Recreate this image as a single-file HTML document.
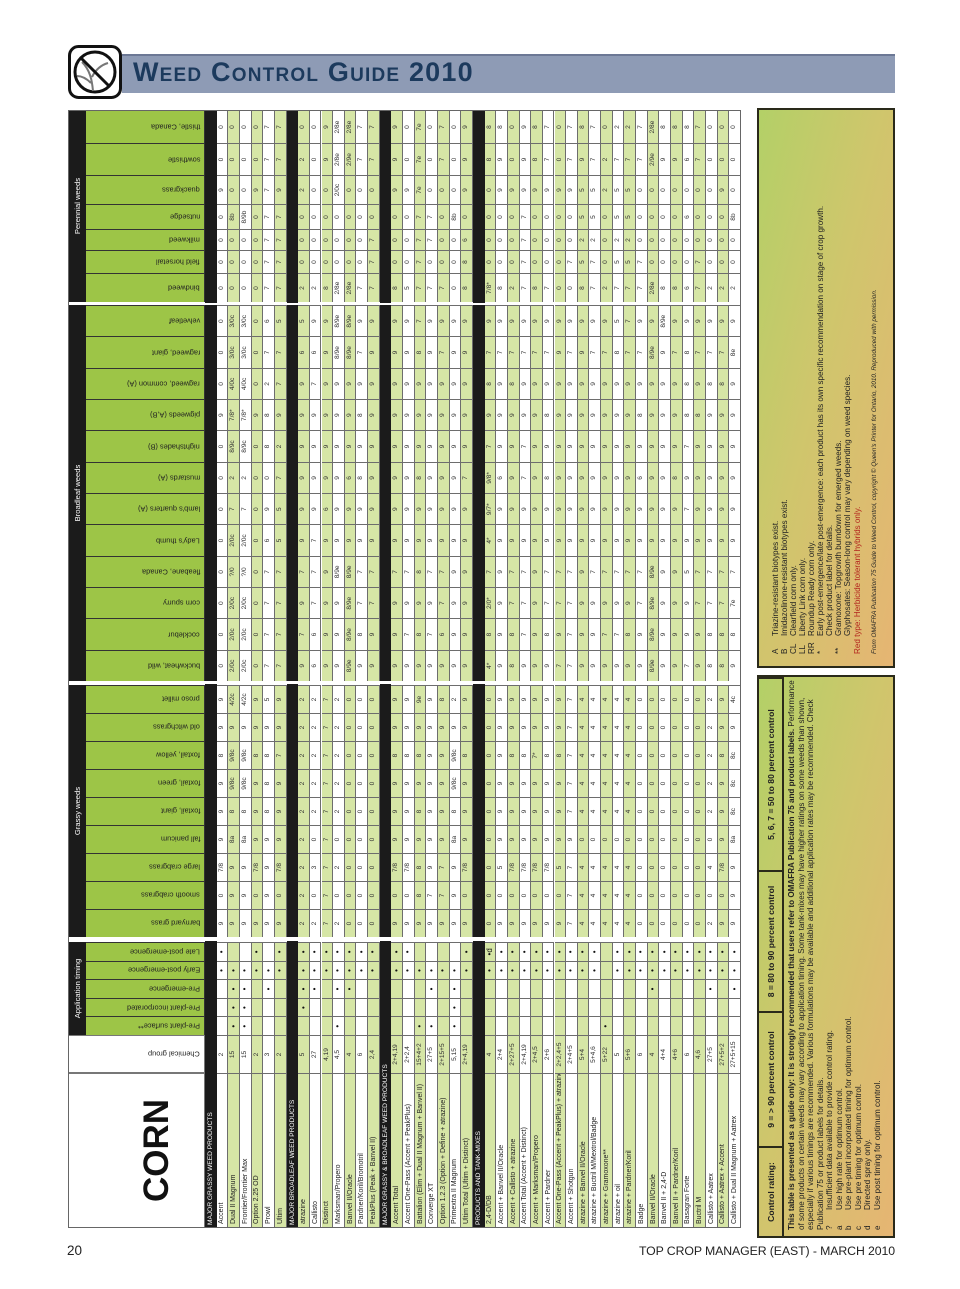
<!DOCTYPE html>
<html><head><meta charset="utf-8">
<style>
html,body{margin:0;padding:0;background:#fff;}
body{width:960px;height:1289px;position:relative;overflow:hidden;font-family:"Liberation Sans",sans-serif;}
#rot{position:absolute;left:68px;top:108px;width:1132px;height:828px;transform-origin:0 0;transform:translateY(1132px) rotate(-90deg);}
.c{position:absolute;box-sizing:border-box;border-right:1px solid #6d6d6d;border-bottom:1px solid #6d6d6d;font-size:6.6px;color:#333;display:flex;align-items:center;justify-content:center;white-space:nowrap;overflow:hidden;line-height:1;}
.n{justify-content:flex-start;padding-left:3px;font-size:7px;color:#222;}
.hdr{position:absolute;box-sizing:border-box;background:#9dc547;border-right:1px solid #333;border-bottom:1px solid #333;overflow:hidden;}
.hdr span{position:absolute;bottom:4px;left:50%;writing-mode:vertical-rl;transform:translateX(-50%) rotate(180deg);font-size:7.4px;color:#222;white-space:nowrap;}
.blk{position:absolute;background:#1b1b1b;color:#fff;font-size:7px;display:flex;align-items:center;}
.gap{position:absolute;background:#fff;}
.box{position:absolute;box-sizing:border-box;border:2px solid #2a2a1a;background:linear-gradient(to bottom left,#b3d067 0%,#cfc66c 45%,#e6b573 100%);}
</style></head>
<body>
<div>
<svg style="position:absolute;left:68px;top:45px" width="54" height="54" viewBox="0 0 54 54">
<rect x="1.5" y="1.5" width="51" height="51" rx="9" fill="#fff" stroke="#111" stroke-width="3"/>
<circle cx="27" cy="27" r="20" fill="none" stroke="#111" stroke-width="3"/>
<path d="M25 46 C24 35 22 25 14 17 M24 32 C28 24 33 20 40 18 M23 38 C18 33 14 31 9 31" stroke="#777" stroke-width="2" fill="none"/>
<line x1="13" y1="13" x2="41" y2="41" stroke="#111" stroke-width="3"/>
</svg>
<div style="position:absolute;left:122px;top:54px;width:773px;height:39px;background:#8e9bb5;border-top:2px solid #6c7895;box-sizing:border-box;"></div>
<div style="position:absolute;left:133px;top:57px;font-size:27px;font-weight:bold;color:#1c3a5d;font-variant:small-caps;letter-spacing:1.2px;">Weed Control Guide 2010</div>
</div>

<div id="rot"></div>

<div style="position:absolute;left:67px;top:1243px;font-size:13.5px;color:#222;">20</div>
<div style="position:absolute;right:65px;top:1244px;font-size:12.3px;color:#222;letter-spacing:-0.1px;">TOP CROP MANAGER (EAST) - MARCH 2010</div>

<script>
// ---- data ----
const sectionTitles = ["MAJOR GRASSY WEED PRODUCTS","MAJOR BROADLEAF WEED PRODUCTS","MAJOR GRASSY & BROADLEAF WEED PRODUCTS","PRODUCTS AND TANK-MIXES"];
const sectionSizes = [6,7,7,22];
const productNames = ["Accent","Dual II Magnum","Frontier/Frontier Max","Option 2.25 OD","Prowl","Ultim",
"atrazine","Callisto","Distinct","Marksman/Propero","Banvel II/Oracle","Pardner/Koril/Bromotril","PeakPlus (Peak + Banvel II)",
"Accent Total","Accent One-Pass (Accent + PeakPlus)","Battalion (Elim + Dual II Magnum + Banvel II)","Converge XT","Option 1.2.3 (Option + Define + atrazine)","Primextra II Magnum","Ultim Total (Ultim + Distinct)",
"2,4-D/DB","Accent + Banvel II/Oracle","Accent + Callisto + atrazine","Accent Total (Accent + Distinct)","Accent + Marksman/Propero","Accent + Pardner","Accent One-Pass (Accent + PeakPlus) + atrazine","Accent + Shotgun","atrazine + Banvel II/Oracle","atrazine + Buctril M/Mextrol/Badge","atrazine + Gramoxone**","atrazine + oil","atrazine + Pardner/Koril","Badge","Banvel II/Oracle","Banvel II + 2,4-D","Banvel II + Pardner/Koril","Basagran Forte","Buctril M","Callisto + Aatrex","Callisto + Aatrex + Accent","Callisto + Dual II Magnum + Aatrex"];
const chemGroups = ["2","15","15","2","3","2","5","27","4,19","4,5","4","6","2,4","2+4,19","2+2,4","15+4+2","27+5","2+15+5","5,15","2+4,19","4","2+4","2+27+5","2+4,19","2+4,5","2+6","2+2,4+5","2+4+5","5+4","5+4,6","5+22","5","5+6","6","4","4+4","4+6","6","4,6","27+5","27+5+2","27+5+15"];
const timingLabels = ["Pre-plant surface**","Pre-plant incorporated","Pre-emergence","Early post-emergence","Late post-emergence"];
const timing = ["00011","11110","11110","00011","00110","00011","01111","00111","00011","10111","00111","00011","00011","00011","00011","10010","10110","00010","11110","00011","0001d","00011","00011","00011","00011","00011","00011","00011","00011","00011","10000","00011","00011","00011","00111","00011","00011","00011","00011","00111","00011","00111"];
const grassyNames = ["barnyard grass","smooth crabgrass","large crabgrass","fall panicum","foxtail, giant","foxtail, green","foxtail, yellow","old witchgrass","proso millet"];
const broadleafNames = ["buckwheat, wild","cocklebur","corn spurry","fleabane, Canada","Lady's thumb","lamb's quarters (A)","mustards (A)","nightshades (B)","pigweeds (A,B)","ragweed, common (A)","ragweed, giant","velvetleaf"];
const perennialNames = ["bindweed","field horsetail","milkweed","nutsedge","quackgrass","sowthistle","thistle, Canada"];
const grassyRows = ["9 0 7/8 9 9 9 8 9 9","9 9 9 8a 8 9/8c 9/8c 9 4/2c","9 9 9 8a 8 9/8c 9/8c 9 4/2c","9 0 7/8 9 9 9 8 9 9","9 9 9 9 8 8 8 9 5","9 0 7/8 9 9 9 7 9 9",
"2 2 2 2 2 2 2 2 2","2 0 3 0 2 2 2 2 2","7 7 7 7 7 7 7 7 7","2 0 2 0 2 2 2 2 2","0 0 0 0 0 0 0 0 0","0 0 0 0 0 0 0 0 0","0 0 0 0 0 0 0 0 0",
"9 0 7/8 9 9 9 8 9 9","9 0 7/8 9 9 9 8 9 9","9 8 8 9 8 9 8 9 9e","9 7 9 9 9 9 9 9 9","9 7 7 9 9 9 9 9 8","9 9 9 8a 8 9/8c 9/8c 9 2","9 0 7/8 9 9 9 8 9 9",
"0 0 0 0 0 0 0 0 0","9 0 5 9 9 9 9 9 9","9 0 7/8 9 9 9 8 9 9","9 0 7/8 9 9 9 8 9 9","9 0 7/8 9 9 9 7* 9 9","9 0 7/8 9 9 9 8 9 9","9 0 5 9 9 9 8 9 9","7 7 7 9 7 7 7 7 7","4 4 4 0 4 4 4 4 4","4 4 4 0 4 4 4 4 4","4 4 4 0 4 4 4 4 4","4 4 4 0 4 4 4 4 4","4 4 4 0 4 4 4 4 4","0 0 0 0 0 0 0 0 0","0 0 0 0 0 0 0 0 0","0 0 0 0 0 0 0 0 0","0 0 0 0 0 0 0 0 0","0 0 0 0 0 0 0 0 0","0 0 0 0 0 0 0 0 0","2 0 4 0 2 2 2 2 2","9 0 7/8 9 9 9 8 9 9","9 9 9 8a 8c 8c 8c 9 4c"];
const broadleafRows = ["0 0 0 0 0 0 0 0 9 0 0 0","2/0c 2/0c 2/0c ?/0 2/0c 7 2 8/9c 7/8* 4/0c 3/0c 3/0c","2/0c 2/0c 2/0c ?/0 2/0c 7 2 8/9c 7/8* 4/0c 3/0c 3/0c","0 0 0 0 0 0 0 0 9 0 0 0","7 7 7 7 6 9 0 8 8 2 7 6","7 7 7 7 5 5 7 2 9 7 7 5",
"9 7 9 7 9 9 9 9 9 9 6 5","6 6 7 7 7 9 9 9 9 7 6 9","9 9 9 9 9 6 9 9 9 9 9 9","9 9 9 8/9e 9 9 9 9 9 9 8/9e 8/9e","8/9e 8/9e 8/9e 8/9e 9 9 6 9 9 9 8/9e 8/9e","9 8 7 7 9 9 8 9 8 9 7 9","9 9 7 7 9 9 9 9 9 9 9 9",
"9 9 9 7 9 9 9 9 9 9 9 9","9 7 9 7 9 9 9 9 9 9 9 9","9 8 9 8 9 9 8 9 9 9 8 7","9 7 9 7 9 9 9 9 9 9 9 9","9 6 7 7 9 9 9 9 9 9 7 9","9 9 9 9 9 9 9 9 9 9 9 9","9 9 9 9 9 9 7 9 9 9 9 9"];
const tankBroadleafCols = ["4* 9 8 9 9 9 7 7 9 9 9 9 9 9 8/9e 9 9 7 9 8 8 9","8 9 8 7 9 8 9 7 9 9 7 7 8 9 8/9e 9 9 9 9 8 8 8","2/0* 9 7 7 9 7 7 7 9 9 9 9 9 7 8/9e 9 9 9 7 7 7 7e","7 9 7 7 9 7 7 7 9 7 7 7 7 7 8/9e 9 9 5 7 7 7 7","4* 9 9 9 9 9 9 9 9 9 9 9 9 9 9 9 9 9 9 9 9 9","9/7* 9 9 9 9 9 9 9 9 9 9 9 9 9 9 9 9 7 9 9 9 9","9/8* 6 9 7 9 8 9 9 9 9 9 9 9 6 9 9 8 9 9 9 9 9","7 9 9 7 9 9 9 9 9 9 9 9 9 9 9 9 9 7 9 9 9 9","9 9 9 9 9 8 9 9 9 9 9 9 9 8 9 9 9 8 8 9 9 9","8 9 8 9 9 9 9 9 9 9 9 9 9 9 9 9 9 8 9 8 8 9","7 7 7 7 7 7 9 7 9 7 7 8 7 7 8/9e 9 7 8 7 7 7 8e","9 9 9 9 9 9 9 9 9 9 9 5 7 9 9 8/9e 9 9 9 9 9 9"];
const perennialRows = ["0 0 0 0 9 0 0","0 0 0 8b 0 0 0","0 0 0 8/9b 0 0 0","0 0 0 0 9 0 0","7 7 7 7 7 7 7","7 7 7 7 9 7 7",
"2 0 0 0 2 2 0","2 0 0 0 0 0 0","8 0 0 0 0 9 9","2/8e 0 0 0 2/0c 2/8e 2/8e","2/8e 0 0 0 0 2/9e 2/8e","7 0 0 0 0 7 7","7 7 7 0 0 7 7",
"8 0 0 0 9 9 9","5 0 0 0 9 0 0","7 7 7 7 7e 7e 7e","7 0 7 7 0 0 0","7 0 0 0 0 7 7","0 0 0 8b 0 0 0","8 8 6 0 9 9 9"];
const tankPerennialCols = ["7/8* 8 2 7 8 7 0 0 8 7 2 7 7 7 2/8e 8 8 6 7 2 2 2","0 0 0 7 0 0 0 7 5 7 0 5 5 7 0 0 0 0 7 0 0 0","0 0 0 7 0 0 0 0 2 2 0 2 2 0 0 0 0 0 0 0 0 0","0 0 0 7 0 0 0 0 5 5 0 5 5 0 0 0 0 6 0 0 0 8b","0 9 9 9 9 9 9 9 5 5 2 5 5 0 0 0 0 0 0 0 9 0","8 9 0 9 8 7 0 7 9 7 2 7 7 7 2/9e 9 9 6 7 0 0 0","8 8 0 9 8 7 0 7 8 7 0 2 2 7 2/8e 8 8 8 7 0 0 0"];

// ---- layout ----
const R = document.getElementById('rot');
function mk(cls, u, v, w, h, txt){
  const d=document.createElement('div');
  d.className=cls;
  d.style.left=u+'px';d.style.top=v+'px';d.style.width=w+'px';d.style.height=h+'px';
  if(txt!==undefined) d.textContent=txt;
  R.appendChild(d);return d;
}
const U0=12, NAMEW=155, CHEMW=38, APPW=18.6;
const appU=U0+NAMEW+CHEMW;
const grassU=appU+5*APPW+5, GRW=28;
const broadU=grassU+9*GRW+4, BRW=31.33;
const perU=broadU+12*BRW+3;
const perW=[29,23,21,25,29,32,33];
const HB=18, HH=137, RH=11.65;

// columns list
const cols=[];
for(let i=0;i<5;i++) cols.push({u:appU+i*APPW,w:APPW,name:timingLabels[i],grp:'app'});
for(let i=0;i<9;i++) cols.push({u:grassU+i*GRW,w:GRW,name:grassyNames[i],grp:'g'});
for(let i=0;i<12;i++) cols.push({u:broadU+i*BRW,w:BRW,name:broadleafNames[i],grp:'b'});
let pu=perU;
for(let i=0;i<7;i++){cols.push({u:pu,w:perW[i],name:perennialNames[i],grp:'p'});pu+=perW[i];}
const END=pu;

// top group bands
const bands=[["Application timing",appU,appU+5*APPW],["Grassy weeds",grassU,grassU+9*GRW],["Broadleaf weeds",broadU,broadU+12*BRW],["Perennial weeds",perU,END]];
bands.forEach(b=>{
  const d=mk('blk',b[1],0,b[2]-b[1],HB+1,b[0]);
  
  
  d.style.justifyContent='center';d.style.fontSize='7.6px';
});
// corner
const corner=mk('c',U0,0,NAMEW,HH,'CORN');


corner.style.cssText+='font-size:35px;font-weight:bold;color:#111;justify-content:center;padding-top:40px;border:1px solid #777;background:#fff;';
const ch=document.createElement('div');ch.className='hdr';


ch.style.cssText+='left:'+(U0+NAMEW)+'px;top:0;width:'+CHEMW+'px;height:'+HH+'px;background:#fff;border:1px solid #777;';
ch.innerHTML='<span>Chemical group</span>';R.appendChild(ch);
cols.forEach(c=>{
  const h=document.createElement('div');h.className='hdr';
  
  
  h.style.left=c.u+'px';h.style.top=HB+'px';h.style.width=c.w+'px';h.style.height=(HH-HB)+'px';
  const s=document.createElement('span');s.textContent=c.name;h.appendChild(s);R.appendChild(h);
});
// rows
let v=HH, pi=0;
sectionSizes.forEach((n,si)=>{
  const sb=mk('blk',U0,v,END-U0,RH,sectionTitles[si]);
  
  
  sb.style.paddingLeft='3px';sb.style.boxSizing='border-box';sb.style.fontSize='6.6px';
  v+=RH;
  for(let r=0;r<n;r++,pi++){
    const green = si===0 ? (r%2===1) : (r%2===0);
    const bg = green ? '#d6e6a6' : '#ffffff';
    const nm=mk('c n',U0,v,NAMEW,RH,productNames[pi]);
    
    
    nm.style.background=bg;nm.style.borderLeft='1px solid #777';
    const cg=mk('c',U0+NAMEW,v,CHEMW,RH,chemGroups[pi]);
    
    
    cg.style.background=bg;
    const t=timing[pi]||'00000';
    let gv,bv,pv;
    gv=(grassyRows[pi]||'').split(' ');
    if(pi<20){bv=(broadleafRows[pi]||'').split(' ');pv=(perennialRows[pi]||'').split(' ');}
    else{const k=pi-20;bv=tankBroadleafCols.map(s=>s.split(' ')[k]||'');pv=tankPerennialCols.map(s=>s.split(' ')[k]||'');}
    cols.forEach((c,ci)=>{
      let txt='';
      if(c.grp==='app'){const ch2=t[ci];txt=ch2==='1'?'•':(ch2==='d'?'•d':'');}
      else if(c.grp==='g') txt=gv[ci-5]||'';
      else if(c.grp==='b') txt=bv[ci-14]||'';
      else txt=pv[ci-26]||'';
      const d=mk('c',c.u,v,c.w,RH,txt);
      
      
      d.style.background=bg;
      if(c.grp==='app'){d.style.fontSize='8px';d.style.color='#111';}
    });
    v+=RH;
  }
});
const TB=v;
// gaps between sections
[[appU+5*APPW,grassU],[grassU+9*GRW,broadU],[broadU+12*BRW,perU]].forEach(g=>{
  const d=mk('gap',g[0]+0.5,0,g[1]-g[0]-1,TB);
  
  
});
// outer frame
const fr=mk('gap',U0,0,END-U0,TB);


fr.style.background='transparent';fr.style.border='1px solid #666';fr.style.boxSizing='border-box';fr.style.pointerEvents='none';

// ---- legend boxes ----
const lb=document.createElement('div');lb.className='box';


lb.style.cssText+='left:2px;top:689px;width:563px;height:138px;';
R.appendChild(lb);
const ratingCells=[["Control rating:",0,90],["9 = > 90 percent control",90,135],["8 = 80 to 90 percent control",225,141],["5, 6, 7 = 50 to 80 percent control",366,193]];
ratingCells.forEach(rc=>{
  const d=document.createElement('div');
  
  
  d.style.cssText='position:absolute;left:'+rc[1]+'px;top:0;width:'+rc[2]+'px;height:25px;border-right:2px solid #2a2a1a;border-bottom:2px solid #2a2a1a;box-sizing:border-box;display:flex;align-items:center;justify-content:center;font-size:8.6px;font-weight:bold;color:#222;';
  d.textContent=rc[0];lb.appendChild(d);
});
const para=document.createElement('div');


para.style.cssText='position:absolute;left:6px;top:28px;width:552px;font-size:8.1px;line-height:9.5px;color:#222;';
para.innerHTML='<b>This table is presented as a guide only: It is strongly recommended that users refer to OMAFRA Publication 75 and product labels.</b> Performance of some products on certain weeds may vary according to application timing. Some tank-mixes may have higher ratings on some weeds than shown, especially if various timings are recommended. Various formulations may be available and additional application rates may be recommended. Check Publication 75 or product labels for details.'+
['?|Insufficient data available to provide control rating.','a|Use high rate for optimum control.','b|Use pre-plant incorporated timing for optimum control.','c|Use pre timing for optimum control.','d|Directed spray only.','e|Use post timing for optimum control.'].map(s=>{const p=s.split('|');return '<div><span style="display:inline-block;width:20px">'+p[0]+'</span>'+p[1]+'</div>';}).join('');
lb.appendChild(para);

const ub=document.createElement('div');ub.className='box';


ub.style.cssText+='left:572px;top:689px;width:560px;height:138px;';
R.appendChild(ub);
const fn=document.createElement('div');


fn.style.cssText='position:absolute;left:12px;top:12px;width:540px;font-size:8.1px;line-height:9px;color:#222;';
fn.innerHTML=[['A','Triazine-resistant biotypes exist.'],['B','Imidazolinone-resistant biotypes exist.'],['CL','Clearfield corn only.'],['LL','Liberty Link corn only.'],['RR','Roundup Ready corn only.'],['*','Early post-emergence/late post-emergence: each product has its own specific recommendation on stage of crop growth.'],['','Check product label for details.'],['**','Gramoxone: Topgrowth burndown for emerged weeds.'],['','Glyphosates: Season-long control may vary depending on weed species.']].map(p=>'<div><span style="display:inline-block;width:18px">'+p[0]+'</span>'+p[1]+'</div>').join('')+
'<div style="color:#b3261e;margin-top:1px">Red type: Herbicide tolerant hybrids only.</div><div style="font-style:italic;font-size:6.3px;margin-top:8px">From OMAFRA Publication 75 Guide to Weed Control, copyright © Queen\'s Printer for Ontario, 2010. Reproduced with permission.</div>';
ub.appendChild(fn);
</script>
</body></html>
